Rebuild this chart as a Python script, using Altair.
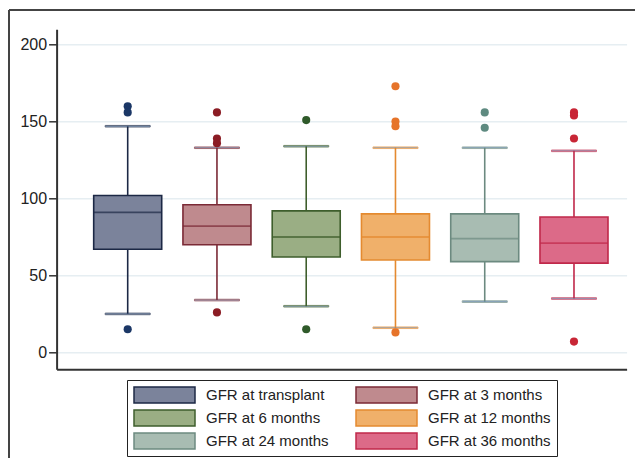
import altair as alt
import pandas as pd

groups = ["GFR at transplant", "GFR at 3 months", "GFR at 6 months",
          "GFR at 12 months", "GFR at 24 months", "GFR at 36 months"]
whisker_low = [25, 34, 30, 16, 33, 35]
q1 = [67, 70, 62, 60, 59, 58]
median = [91, 82, 75, 75, 74, 71]
q3 = [102, 96, 92, 90, 90, 88]
whisker_high = [147, 133, 134, 133, 133, 131]

outlier_group = ["GFR at transplant"] * 3 + ["GFR at 3 months"] * 4 + ["GFR at 6 months"] * 2 \
    + ["GFR at 12 months"] * 4 + ["GFR at 24 months"] * 2 + ["GFR at 36 months"] * 4
outlier_value = [160, 156, 15,
                 156, 139, 136, 26,
                 151, 15,
                 173, 150, 147, 13,
                 156, 146,
                 156, 154, 139, 7]

fill_colors = ["#7b839b", "#bf8a8e", "#9aae84", "#f0b06a", "#a8bcb2", "#dc6a88"]
stroke_colors = ["#1c2845", "#7b2a36", "#3e5e2c", "#e48a30", "#6c8a80", "#c0284a"]
point_colors = ["#1b3766", "#8b1c24", "#2f5a2a", "#e6742a", "#5e8a80", "#c82636"]
y_ticks = [0, 50, 100, 150, 200]

stats = pd.DataFrame({"group": groups, "lo": whisker_low, "q1": q1, "med": median,
                      "q3": q3, "hi": whisker_high})
outl = pd.DataFrame({"group": outlier_group, "value": outlier_value})
frame_df = pd.DataFrame({"k": [0]})

FONT = "Arial, Liberation Sans, sans-serif"

legend = alt.Legend(title=None, orient="none", legendX=70.4, legendY=350.7, columns=2,
                    direction="horizontal", clipHeight=18,
                    symbolType="M-1,-0.26H1V0.26H-1Z", symbolSize=3721,
                    symbolStrokeWidth=1.5, symbolOpacity=1, labelFont=FONT, labelFontSize=15,
                    labelColor="#222222", labelLimit=300, labelOffset=10,
                    columnPadding=26, rowPadding=5, padding=6,
                    strokeColor="#222222", fillColor="white")

x = alt.X("group:N", sort=groups,
          scale=alt.Scale(domain=groups, paddingInner=0.238, paddingOuter=0.312, align=0.666),
          axis=alt.Axis(labels=False, ticks=False, title=None, domain=True, grid=False))
yscale = alt.Scale(domain=[-11, 210], nice=False, zero=False)
yaxis = alt.Axis(values=y_ticks, title=None, grid=True)

fill = alt.Fill("group:N", scale=alt.Scale(domain=groups, range=fill_colors), legend=legend)
stroke = alt.Stroke("group:N", scale=alt.Scale(domain=groups, range=stroke_colors), legend=legend)

base = alt.Chart(stats)

w_low = base.mark_rule(strokeWidth=1.6).encode(
    x=x, y=alt.Y("lo:Q", scale=yscale, axis=yaxis), y2="q1:Q", stroke=stroke)
w_high = base.mark_rule(strokeWidth=1.6).encode(
    x=x, y=alt.Y("q3:Q", scale=yscale, axis=yaxis), y2="hi:Q", stroke=stroke)
box = base.mark_bar(strokeWidth=1.6, opacity=1).encode(
    x=x, y=alt.Y("q1:Q", scale=yscale, axis=yaxis), y2="q3:Q", fill=fill, stroke=stroke)
med = base.mark_tick(size=68, thickness=1.8).encode(
    x=x, y=alt.Y("med:Q", scale=yscale, axis=yaxis), color=alt.Color("group:N", scale=alt.Scale(domain=groups, range=stroke_colors), legend=None))
cap_lo = base.mark_tick(size=45, thickness=1.6).encode(
    x=x, y=alt.Y("lo:Q", scale=yscale, axis=yaxis), stroke=stroke)
cap_hi = base.mark_tick(size=45, thickness=1.6).encode(
    x=x, y=alt.Y("hi:Q", scale=yscale, axis=yaxis), stroke=stroke)

pts = alt.Chart(outl).mark_circle(size=66, opacity=1).encode(
    x=x, y=alt.Y("value:Q", scale=yscale, axis=yaxis),
    color=alt.Color("group:N", scale=alt.Scale(domain=groups, range=point_colors), legend=None))

frame_top = alt.Chart(frame_df).mark_rule(color="#444444", strokeWidth=2).encode(
    x=alt.value(-47.6), x2=alt.value(640), y=alt.value(-19.3))
frame_left = alt.Chart(frame_df).mark_rule(color="#444444", strokeWidth=2).encode(
    x=alt.value(-47.6), y=alt.value(-19.3), y2=alt.value(460))

chart = alt.layer(frame_top, frame_left, w_low, w_high, cap_lo, cap_hi, box, med, pts).resolve_scale(
    color="independent"
).properties(
    width=570, height=340,
    autosize=alt.AutoSizeParams(type="none"),
    padding={"left": 48.6, "top": 21.3, "right": 8.4, "bottom": 88.7},
    background="white",
).configure_view(stroke=None).configure_axis(
    labelFont=FONT, labelFontSize=16, labelColor="#222222",
    tickColor="#333333", tickSize=8, tickWidth=1.5, labelPadding=2,
    domainColor="#333333", domainWidth=2,
    gridColor="#e6eef2", gridWidth=1.5,
)

chart.save("out.html", embed_options={"renderer": "svg", "actions": False})
